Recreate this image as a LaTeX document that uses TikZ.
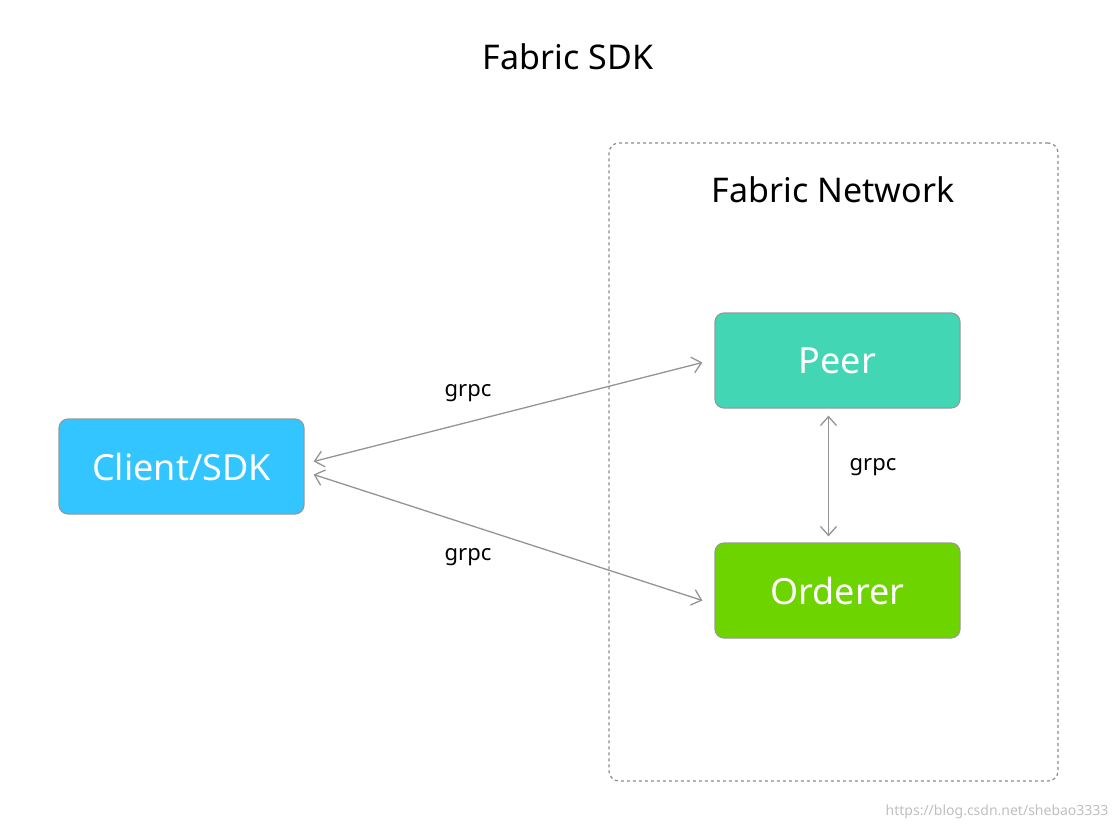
\documentclass[tikz,border=0pt]{standalone}
\usepackage{fontspec}
\setmainfont{Noto Sans}
\usetikzlibrary{arrows.meta,calc}
\begin{document}
\begin{tikzpicture}[x=1pt,y=-1pt,
  box/.style={draw=black!40,line width=1.2pt,rounded corners=9pt,minimum width=245pt,minimum height=95pt,text=white,font=\fontsize{36}{40}\selectfont},
  con/.style={draw=black!42,line width=1.3pt,{Straight Barb[length=9pt,width=16pt]}-{Straight Barb[length=9pt,width=16pt]}},
  lab/.style={font=\fontsize{22}{26}\selectfont},
  ttl/.style={font=\fontsize{34}{38}\selectfont}]
\useasboundingbox (0,0) rectangle (1120,830);
\node[ttl] (title) at (568,57) {Fabric SDK};
\node[draw=black!45,dashed,line width=1.2pt,rounded corners=10pt,minimum width=449pt,minimum height=638pt] (net) at (833.5,462) {};
\node[ttl] (nettitle) at (833,190) {Fabric Network};
\node[box,fill={rgb,255:red,67;green,214;blue,181}] (peer) at (837.5,360.5) {Peer};
\node[box,fill={rgb,255:red,109;green,212;blue,0}] (ord) at (837.5,590.5) {Orderer};
\node[box,fill={rgb,255:red,50;green,197;blue,255}] (client) at (181.5,466.5) {Client/SDK};
\coordinate (c1) at ($(client.east)+(9,-5)$);
\coordinate (c2) at ($(client.east)+(9,8)$);
\coordinate (p1) at ($(peer.west)+(-12,2)$);
\coordinate (o1) at ($(ord.west)+(-12,10)$);
\coordinate (p2) at ($(peer.south)+(-9,7)$);
\coordinate (o2) at ($(ord.north)+(-9,-6)$);
\draw[con] (c1) -- (p1);
\draw[con] (c2) -- (o1);
\draw[con] (p2) -- (o2);
\node[lab] (g1) at (468,393) {grpc};
\node[lab] (g2) at (468,557) {grpc};
\node[lab] (g3) at (873,467) {grpc};
\node[font=\fontsize{14}{16}\selectfont,text=black!25,anchor=east] (wm) at (1112,812) {https://blog.csdn.net/shebao3333};
\end{tikzpicture}
\end{document}
